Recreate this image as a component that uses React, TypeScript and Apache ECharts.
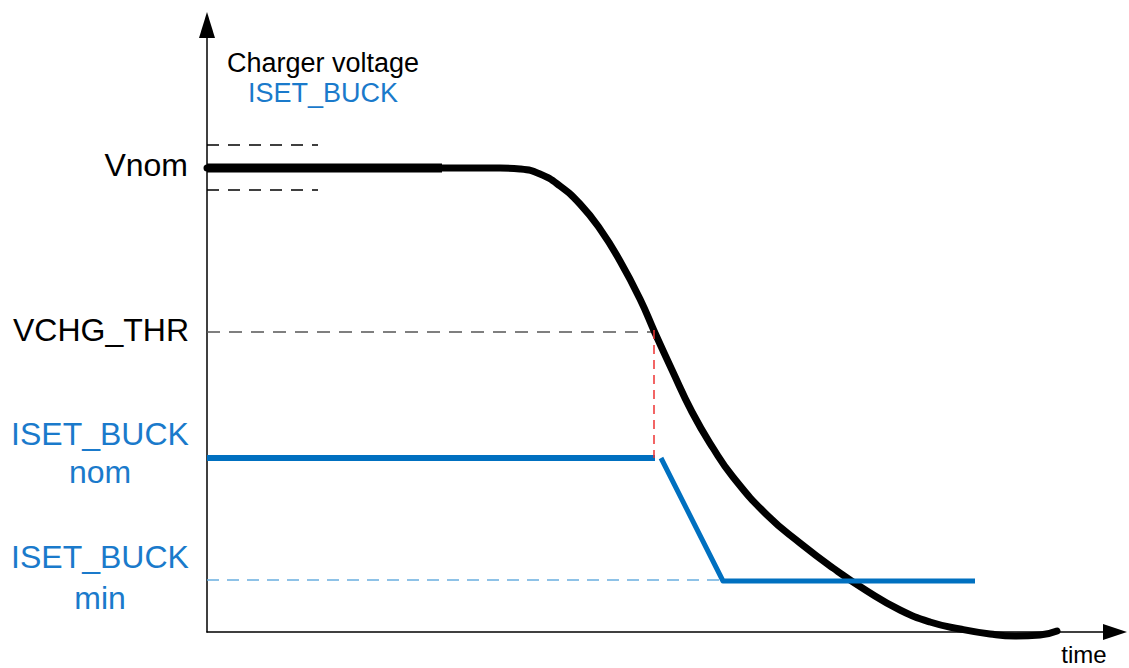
import React, { useEffect, useRef } from "react";
import * as echarts from "echarts";

// Coordinates: x = time units from the origin, y = level units above the time axis
const chargerVoltage: number[][] = [
  [0, 464], [233, 464], [293, 464], [313, 463], [333, 458], [353, 446], [373, 428],
  [393, 403], [413, 371], [433, 333], [448, 299], [465, 262], [485, 220], [506, 184],
  [526, 155], [560, 117], [593, 89], [626, 64], [660, 41], [693, 22], [723, 10],
  [753, 3], [783, -2], [808, -4], [833, -3], [850, 1],
];
const vnomHold: number[][] = [[0, 464], [235, 464]];
const isetNom: number[][] = [[0, 174], [448, 174]];
const isetRamp: number[][] = [[454, 174], [516, 51], [768, 51]];
const vnomUpper: number[][] = [[0, 487], [111, 487]];
const vnomLower: number[][] = [[0, 442], [111, 442]];
const vchgThrLine: number[][] = [[0, 300], [448, 300]];
const thrDrop: number[][] = [[447, 302], [447, 174]];
const isetMinLine: number[][] = [[0, 52], [516, 52]];

const BLUE = "#0070C0";
const TEXT_BLUE = "#1a7acb";
const FONT = "Liberation Sans, Arial, sans-serif";

function line(data: number[][], color: string, width: number, type: any = "solid", z = 2, cap: any = "butt", smooth: any = false) {
  const s: any = {
    type: "line",
    data,
    showSymbol: false,
    symbol: "none",
    clip: false,
    smooth,
    z,
    lineStyle: { color, width, type, cap, join: "round" },
    emphasis: { disabled: true },
    silent: true,
  };
  return s;
}

function txt(text: string, x: number, y: number, size: number, color: string, align = "center") {
  return {
    type: "text",
    x,
    y,
    style: {
      text,
      fill: color,
      font: `${size}px ${FONT}`,
      fontSize: size,
      fontFamily: FONT,
      textAlign: align,
      textVerticalAlign: "middle",
    },
    silent: true,
  };
}

export default function App() {
  const ref = useRef<HTMLDivElement>(null);
  useEffect(() => {
    if (!ref.current) return;
    const chart = echarts.init(ref.current, undefined, { renderer: "svg" });
    const axisCommon = {
      type: "value",
      axisLabel: { show: false },
      axisTick: { show: false },
      splitLine: { show: false },
    };
    chart.setOption({
      animation: false,
      backgroundColor: "#fff",
      grid: { left: 207, right: 14, top: 25, bottom: 36, containLabel: false, outerBoundsMode: "none" },
      xAxis: {
        ...axisCommon,
        min: 0,
        max: 908,
        axisLine: {
          show: true,
          onZero: false,
          symbol: ["none", "triangle"],
          symbolSize: [16, 24],
          lineStyle: { color: "#000", width: 1.5 },
        },
      },
      yAxis: {
        ...axisCommon,
        min: 0,
        max: 607,
        axisLine: {
          show: true,
          onZero: false,
          symbol: ["none", "triangle"],
          symbolSize: [16, 26],
          lineStyle: { color: "#000", width: 1.5 },
        },
      },
      series: [
        line(vnomUpper, "#000", 1.5, [12, 9], 1),
        line(vnomLower, "#000", 1.5, [12, 9], 1),
        line(vchgThrLine, "#555", 1.5, [13, 9], 1),
        line(isetMinLine, "#6aaee0", 1.5, [12, 8], 1),
        line(chargerVoltage, "#000", 7, "solid", 3, "round", 0.5),
        line(vnomHold, "#000", 9, "solid", 3),
        line(isetNom, BLUE, 6, "solid", 4),
        line(isetRamp, BLUE, 5, "solid", 4, "butt"),
        line(thrDrop, "#ee3333", 1.5, [9, 6], 5),
      ],
      graphic: [
        txt("Charger voltage", 323, 63, 27, "#000"),
        txt("ISET_BUCK", 323, 93, 27, TEXT_BLUE),
        txt("Vnom", 188, 165, 32, "#000", "right"),
        txt("VCHG_THR", 189, 330, 32, "#000", "right"),
        txt("ISET_BUCK", 100, 434, 32, TEXT_BLUE),
        txt("nom", 100, 472, 32, TEXT_BLUE),
        txt("ISET_BUCK", 100, 557, 32, TEXT_BLUE),
        txt("min", 100, 598, 32, TEXT_BLUE),
        txt("time", 1084, 654, 24, "#000"),
      ],
    });
    return () => chart.dispose();
  }, []);
  return (
    <div
      ref={ref}
      style={{ position: "fixed", left: 0, top: 0, width: 1129, height: 668, background: "#fff" }}
    />
  );
}
